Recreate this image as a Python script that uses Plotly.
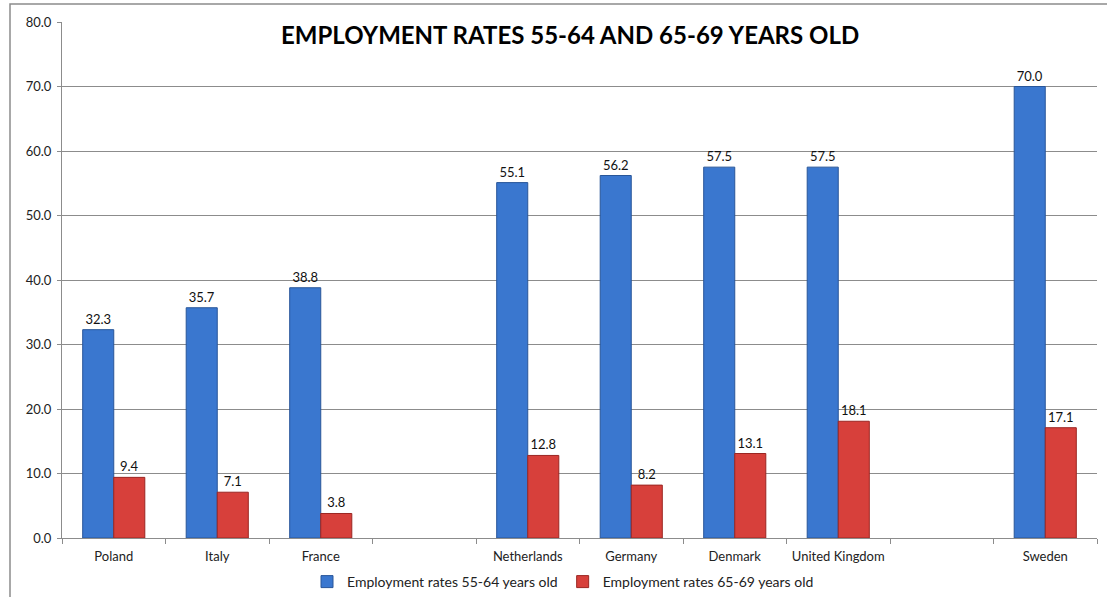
import plotly.graph_objects as go

categories = ["Poland", "Italy", "France", " ", "Netherlands", "Germany", "Denmark", "United Kingdom", "  ", "Sweden"]
rate_55_64 = [32.3, 35.7, 38.8, None, 55.1, 56.2, 57.5, 57.5, None, 70.0]
rate_65_69 = [9.4, 7.1, 3.8, None, 12.8, 8.2, 13.1, 18.1, None, 17.1]
series_names = ["Employment rates 55-64 years old", "Employment rates 65-69 years old"]
title_text = "EMPLOYMENT RATES 55-64 AND 65-69 YEARS OLD"

FONT = "Lato"

def labels(vals):
    return ["" if v is None else f"{v:.1f}" for v in vals]

fig = go.Figure()
fig.add_trace(go.Bar(
    x=categories, y=rate_55_64, name=series_names[0],
    marker=dict(color="#3A77CF", line=dict(color="#285699", width=1)),
    text=labels(rate_55_64), textposition="outside", cliponaxis=False,
    textfont=dict(family=FONT, size=13, color="#111111"),
))
fig.add_trace(go.Bar(
    x=categories, y=rate_65_69, name=series_names[1],
    marker=dict(color="#D7403B", line=dict(color="#9B2622", width=1)),
    text=labels(rate_65_69), textposition="outside", cliponaxis=False,
    textfont=dict(family=FONT, size=13, color="#111111"),
))

W, H = 1107, 597
ml, mr, mt, mb = 62, 10, 22, 59
pw, ph = W - ml - mr, H - mt - mb

def px_x(p):
    return (p - ml) / pw

def px_y(p):
    return (H - mb - p) / ph

fig.update_layout(
    width=W, height=H,
    margin=dict(l=ml, r=mr, t=mt, b=mb, autoexpand=False),
    paper_bgcolor="white", plot_bgcolor="white",
    barmode="group", bargap=0.4, bargroupgap=0,
    font=dict(family=FONT, size=13, color="#222222"),
    showlegend=True,
    legend=dict(orientation="h", x=px_x(563), xanchor="center", y=px_y(582), yanchor="middle",
                font=dict(family=FONT, size=14, color="#222222"), itemwidth=30,
                bgcolor="rgba(0,0,0,0)", traceorder="normal"),
    xaxis=dict(type="category", categoryorder="array", categoryarray=categories,
               showline=True, linecolor="#8c8c8c", linewidth=1,
               ticks="outside", ticklen=5, tickcolor="#8c8c8c", tickson="boundaries",
               ticklabelstandoff=6, tickangle=0,
               showgrid=False, tickfont=dict(family=FONT, size=13, color="#222222")),
    yaxis=dict(range=[0, 80], dtick=10, tickformat=".1f",
               showline=True, linecolor="#8c8c8c", linewidth=1,
               ticks="outside", ticklen=4, tickcolor="#8c8c8c",
               ticklabelstandoff=3,
               showgrid=True, gridcolor="#8c8c8c", gridwidth=1, zeroline=False,
               tickfont=dict(family=FONT, size=13, color="#222222")),
    annotations=[dict(text="<b>" + title_text + "</b>", xref="paper", yref="paper",
                      x=px_x(570), y=px_y(34), xanchor="center", yanchor="middle",
                      showarrow=False, font=dict(family=FONT, size=24, color="#000000"))],
    shapes=[dict(type="rect", xref="paper", yref="paper",
                 x0=px_x(10), x1=px_x(1112), y0=px_y(602), y1=px_y(4),
                 line=dict(color="#8c8c8c", width=1.5), fillcolor="rgba(0,0,0,0)", layer="below")],
)

fig.write_html("out.html")
